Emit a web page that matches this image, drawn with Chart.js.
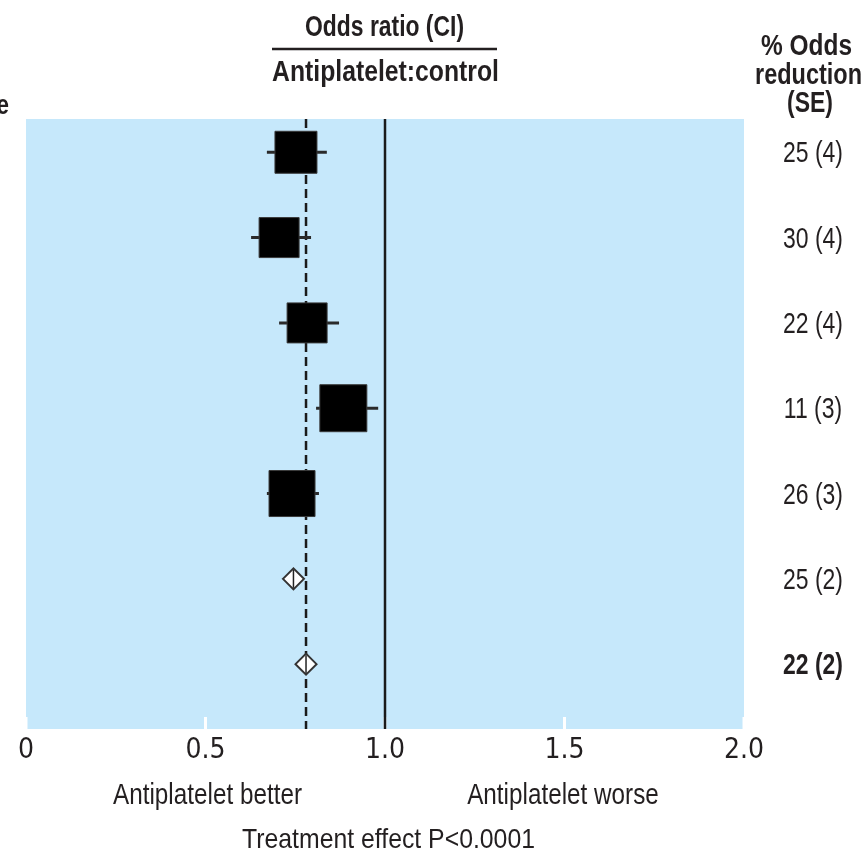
<!DOCTYPE html>
<html>
<head>
<meta charset="utf-8">
<script src="https://cdn.jsdelivr.net/npm/chart.js@4.4.1/dist/chart.umd.min.js"></script>
<style>
  html, body { margin: 0; padding: 0; background: #ffffff; }
  #wrap { position: relative; width: 865px; height: 852px; }
</style>
</head>
<body>
<div id="wrap"><canvas id="c" width="865" height="852"></canvas></div>
<script>
// ---- data ----
const rowIndex      = [1, 2, 3, 4, 5, 6, 7];
const reductionText = ['25 (4)', '30 (4)', '22 (4)', '11 (3)', '26 (3)', '25 (2)', '22 (2)'];
const boldRow       = [false, false, false, false, false, false, true];
const oddsRatio     = [0.752, 0.705, 0.783, 0.884, 0.741, 0.745, 0.780];
const ciLow         = [0.671, 0.627, 0.705, 0.808, 0.671, 0.716, 0.749];
const ciHigh        = [0.838, 0.794, 0.872, 0.981, 0.816, 0.774, 0.811];
const boxWeight     = [42, 40, 40, 47, 46];      // relative weight of each study box
const isSummary     = [false, false, false, false, false, true, true];
const overallOR     = 0.78;
const nullOR        = 1.0;
const xTicks        = [0, 0.5, 1.0, 1.5, 2.0];
const xTickLabels   = ['0', '0.5', '1.0', '1.5', '2.0'];

const TEXT_FONT = '"Liberation Sans", Arial, sans-serif';
const TICK_FONT = '"DejaVu Sans Condensed", "Liberation Sans Narrow", sans-serif';
const INK = '#231f20';

const boxPts = [], boxRadius = [], diaPts = [];
rowIndex.forEach((r, i) => {
  if (isSummary[i]) diaPts.push({ x: oddsRatio[i], y: r });
  else { boxPts.push({ x: oddsRatio[i], y: r }); boxRadius.push(boxWeight[i] / Math.SQRT2); }
});

function setFont(ctx, size, bold) {
  ctx.font = (bold ? 'bold ' : '') + size + 'px ' + TEXT_FONT;
}
// condensed text: horizontally squeeze a regular face
function drawScaled(ctx, text, cx, baseline, size, bold, sx, align) {
  setFont(ctx, size, bold);
  ctx.save();
  ctx.translate(cx, baseline);
  ctx.scale(sx, 1);
  ctx.textAlign = align || 'center';
  ctx.textBaseline = 'alphabetic';
  ctx.fillText(text, 0, 0);
  ctx.restore();
}
function fitScale(ctx, text, size, bold, width) {
  setFont(ctx, size, bold);
  return width / ctx.measureText(text).width;
}

const forestPlugin = {
  id: 'forest',
  beforeDraw(chart) {
    const { ctx, chartArea: a } = chart;
    ctx.save();
    ctx.fillStyle = '#c6e8fb';
    ctx.fillRect(a.left, a.top, a.right - a.left, a.bottom - a.top);
    ctx.restore();
  },
  beforeDatasetsDraw(chart) {
    const { ctx, chartArea: a, scales: { x, y } } = chart;
    ctx.save();
    // white inner tick marks
    ctx.strokeStyle = '#ffffff';
    ctx.lineWidth = 3;
    xTicks.forEach(t => {
      const px = x.getPixelForValue(t);
      ctx.beginPath(); ctx.moveTo(px, a.bottom - 12); ctx.lineTo(px, a.bottom); ctx.stroke();
    });
    // null line
    ctx.strokeStyle = '#1a1a1a';
    ctx.lineWidth = 2.5;
    let px = x.getPixelForValue(nullOR);
    ctx.beginPath(); ctx.moveTo(px, a.top); ctx.lineTo(px, a.bottom); ctx.stroke();
    // overall dashed line
    ctx.setLineDash([9, 5]);
    px = x.getPixelForValue(overallOR);
    ctx.beginPath(); ctx.moveTo(px, a.top); ctx.lineTo(px, a.bottom); ctx.stroke();
    ctx.setLineDash([]);
    // CI whiskers
    ctx.strokeStyle = '#2a2a2a';
    ctx.lineWidth = 3;
    rowIndex.forEach((r, i) => {
      if (isSummary[i]) return;
      const py = y.getPixelForValue(r);
      ctx.beginPath();
      ctx.moveTo(x.getPixelForValue(ciLow[i]), py);
      ctx.lineTo(x.getPixelForValue(ciHigh[i]), py);
      ctx.stroke();
    });
    ctx.restore();
  },
  afterDatasetsDraw(chart) {
    const { ctx, scales: { x, y } } = chart;
    ctx.save();
    // centre line of diamonds
    ctx.strokeStyle = '#222222';
    ctx.lineWidth = 1.5;
    rowIndex.forEach((r, i) => {
      if (!isSummary[i]) return;
      const px = x.getPixelForValue(oddsRatio[i]);
      const py = y.getPixelForValue(r);
      ctx.beginPath(); ctx.moveTo(px, py - 9); ctx.lineTo(px, py + 9); ctx.stroke();
    });
    ctx.fillStyle = INK;
    // right column
    const colSx = fitScale(ctx, reductionText[0], 29, false, 60);
    rowIndex.forEach((r, i) => {
      drawScaled(ctx, reductionText[i], 813, y.getPixelForValue(r) + 10, 29, boldRow[i], colSx);
    });
    // headers
    drawScaled(ctx, 'Odds ratio (CI)', 384.5, 36, 29, true, fitScale(ctx, 'Odds ratio (CI)', 29, true, 159));
    drawScaled(ctx, 'Antiplatelet:control', 385.5, 81, 29, true, fitScale(ctx, 'Antiplatelet:control', 29, true, 227));
    drawScaled(ctx, '% Odds', 806.5, 55, 29, true, fitScale(ctx, '% Odds', 29, true, 91));
    drawScaled(ctx, 'reduction', 808.5, 84, 29, true, fitScale(ctx, 'reduction', 29, true, 107));
    drawScaled(ctx, '(SE)', 810, 112, 29, true, fitScale(ctx, '(SE)', 29, true, 46));
    drawScaled(ctx, 'Outcome', 9, 114, 28, true, 0.8, 'right');
    ctx.strokeStyle = INK;
    ctx.lineWidth = 2.5;
    ctx.beginPath(); ctx.moveTo(272, 49); ctx.lineTo(497, 49); ctx.stroke();
    // footer
    const footSx = fitScale(ctx, 'Antiplatelet better', 29, false, 189);
    drawScaled(ctx, 'Antiplatelet better', 207.5, 804, 29, false, footSx);
    drawScaled(ctx, 'Antiplatelet worse', 563, 804, 29, false, footSx);
    drawScaled(ctx, 'Treatment effect P<0.0001', 388.5, 848, 28, false,
               fitScale(ctx, 'Treatment effect P<0.0001', 28, false, 293));
    ctx.restore();
  }
};

new Chart(document.getElementById('c'), {
  type: 'scatter',
  data: {
    datasets: [
      {
        label: 'Studies',
        data: boxPts,
        pointStyle: 'rect',
        pointRadius: boxRadius,
        pointHoverRadius: boxRadius,
        backgroundColor: '#000000',
        borderColor: '#3a3a3a',
        borderWidth: 1
      },
      {
        label: 'Summary',
        data: diaPts,
        pointStyle: 'rectRot',
        pointRadius: 10.5,
        pointHoverRadius: 10.5,
        backgroundColor: '#ffffff',
        borderColor: '#333333',
        borderWidth: 2
      }
    ]
  },
  options: {
    responsive: false,
    animation: false,
    events: [],
    layout: { autoPadding: false, padding: { left: 26, right: 121, top: 119, bottom: 83 } },
    plugins: { legend: { display: false }, tooltip: { enabled: false } },
    scales: {
      x: {
        type: 'linear', min: 0, max: 2,
        afterBuildTicks: s => { s.ticks = xTicks.map(v => ({ value: v })); },
        afterFit: s => { s.height = 40; },
        grid: { display: false, drawTicks: false },
        border: { display: false },
        ticks: {
          padding: 5,
          color: INK,
          font: { family: TICK_FONT, size: 28 },
          maxRotation: 0,
          callback: (v) => xTickLabels[xTicks.indexOf(v)]
        }
      },
      y: {
        type: 'linear', reverse: true, min: 0.61, max: 7.76,
        display: false
      }
    }
  },
  plugins: [forestPlugin]
});
</script>
</body>
</html>
